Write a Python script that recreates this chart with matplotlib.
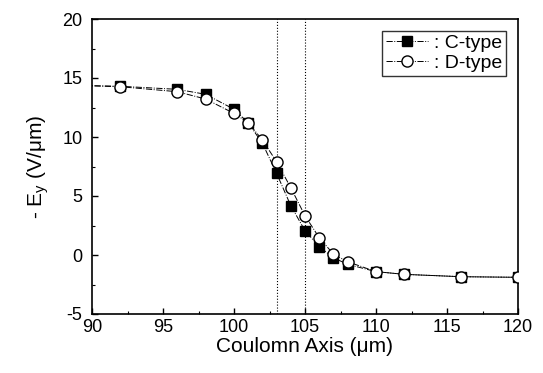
import matplotlib
matplotlib.use("Agg")
from matplotlib import pyplot as plt
from matplotlib.ticker import MultipleLocator

plt.rcParams["font.family"] = ["Liberation Sans", "DejaVu Sans"]
plt.rcParams["axes.unicode_minus"] = False

# Coulomn axis positions (um)
x_c = [88, 92, 96, 98, 100, 101, 102, 103, 104, 105, 106, 107, 108, 110, 112, 116, 120]
x_d = [88, 92, 96, 98, 100, 101, 102, 103, 104, 105, 106, 107, 108, 110, 112, 116, 120]

# -E_y (V/um)
ey_c = [14.4, 14.3, 14.04, 13.62, 12.35, 11.2, 9.47, 6.92, 4.18, 2.06, 0.70, -0.23, -0.79,
        -1.41, -1.64, -1.84, -1.89]
ey_d = [14.4, 14.26, 13.84, 13.22, 12.0, 11.21, 9.75, 7.9, 5.7, 3.33, 1.47, 0.08, -0.57,
        -1.41, -1.64, -1.84, -1.89]

v_lines = [103, 105]


def main():
    fig = plt.figure(figsize=(5.43, 3.73), dpi=100)
    ax = fig.add_axes([92 / 543, 1 - 314 / 373, 426 / 543, 295 / 373])

    ax.plot(x_c, ey_c, color="k", linestyle="-.", linewidth=0.7, marker="s",
            markersize=7, markerfacecolor="k", markeredgecolor="k",
            label=": C-type", zorder=3)
    ax.plot(x_d, ey_d, color="k", linestyle="-.", linewidth=0.7, marker="o",
            markersize=8, markerfacecolor="white", markeredgecolor="k",
            markeredgewidth=1.0, label=": D-type", zorder=4)

    for xv in v_lines:
        ax.axvline(xv, color="k", linestyle=":", linewidth=0.8, zorder=1)

    ax.set_xlim(90, 120)
    ax.set_ylim(-5, 20)
    ax.xaxis.set_major_locator(MultipleLocator(5))
    ax.xaxis.set_minor_locator(MultipleLocator(2.5))
    ax.yaxis.set_major_locator(MultipleLocator(5))
    ax.yaxis.set_minor_locator(MultipleLocator(2.5))
    ax.tick_params(which="major", direction="in", length=4, width=1, labelsize=13)
    ax.tick_params(axis="y", which="major", pad=7)
    ax.tick_params(which="minor", direction="in", length=2, width=0.8)
    for sp in ax.spines.values():
        sp.set_linewidth(1.2)

    ax.set_xlabel("Coulomn Axis (μm)", fontsize=15, labelpad=1)
    ax.set_ylabel("- E$_\\mathregular{y}$ (V/μm)", fontsize=15, labelpad=8)

    leg = ax.legend(loc="upper right", fontsize=14, frameon=True, fancybox=False,
                    edgecolor="k", handlelength=2.2, handletextpad=0.3,
                    borderpad=0.2, labelspacing=0.1, borderaxespad=0.6)
    leg.get_frame().set_linewidth(1.0)

    fig.savefig("out.png", dpi=100)
    plt.close()


if __name__ == "__main__":
    main()
